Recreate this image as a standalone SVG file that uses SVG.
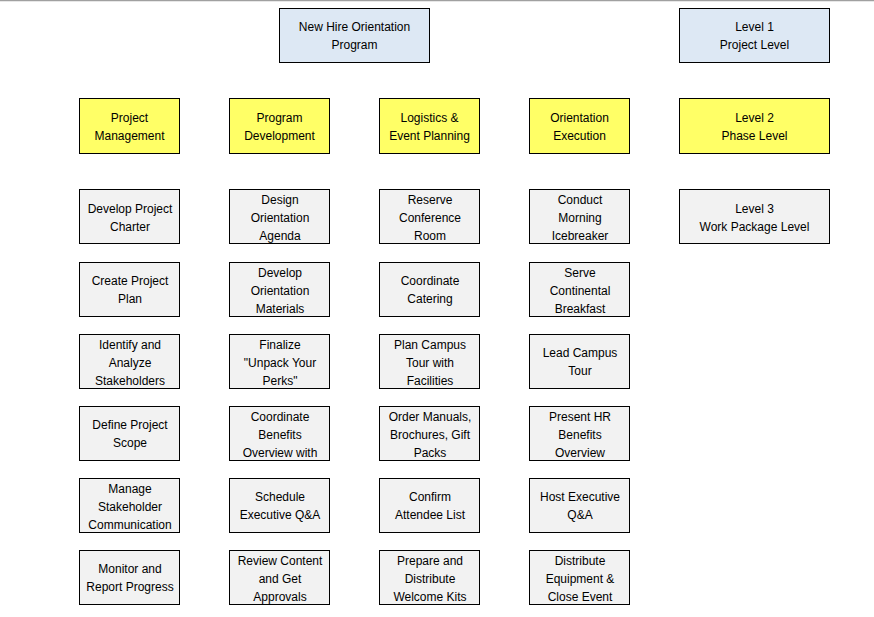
<svg xmlns="http://www.w3.org/2000/svg" width="874" height="617" viewBox="0 0 874 617">
<style>
rect.b{stroke:#000;stroke-width:1}
.l1{fill:#dde8f4}
.l2{fill:#ffff66}
.l3{fill:#f2f2f2}
text{font-family:"Liberation Sans",Arial,sans-serif;font-size:12px;fill:#000;text-anchor:middle}
</style>
<rect x="0" y="0" width="874" height="617" fill="#fff"/>
<line x1="0" y1="0.5" x2="874" y2="0.5" stroke="#a0a0a0" stroke-width="1.5"/>
<g id="root"><rect class="b l1" x="279.5" y="8.5" width="150" height="54"/><text x="354.5" y="31">New Hire Orientation</text><text x="354.5" y="49">Program</text></g>
<g id="legend1"><rect class="b l1" x="679.5" y="8.5" width="150" height="54"/><text x="754.5" y="31">Level 1</text><text x="754.5" y="49">Project Level</text></g>
<g id="pm"><rect class="b l2" x="79.5" y="98.5" width="100" height="55"/><text x="129.5" y="122">Project</text><text x="129.5" y="140">Management</text></g>
<g id="pd"><rect class="b l2" x="229.5" y="98.5" width="100" height="55"/><text x="279.5" y="122">Program</text><text x="279.5" y="140">Development</text></g>
<g id="lep"><rect class="b l2" x="379.5" y="98.5" width="100" height="55"/><text x="429.5" y="122">Logistics &amp;</text><text x="429.5" y="140">Event Planning</text></g>
<g id="oe"><rect class="b l2" x="529.5" y="98.5" width="100" height="55"/><text x="579.5" y="122">Orientation</text><text x="579.5" y="140">Execution</text></g>
<g id="legend2"><rect class="b l2" x="679.5" y="98.5" width="150" height="55"/><text x="754.5" y="122">Level 2</text><text x="754.5" y="140">Phase Level</text></g>
<g id="legend3"><rect class="b l3" x="679.5" y="189.5" width="150" height="54"/><text x="754.5" y="213">Level 3</text><text x="754.5" y="231">Work Package Level</text></g>
<!-- column 1 -->
<g id="pm1"><rect class="b l3" x="79.5" y="189.5" width="100" height="54"/><text x="130" y="213">Develop Project</text><text x="130" y="231">Charter</text></g>
<g id="pm2"><rect class="b l3" x="79.5" y="262.5" width="100" height="54"/><text x="130" y="285">Create Project</text><text x="130" y="303">Plan</text></g>
<g id="pm3"><rect class="b l3" x="79.5" y="334.5" width="100" height="54"/><text x="130" y="349">Identify and</text><text x="130" y="367">Analyze</text><text x="130" y="385">Stakeholders</text></g>
<g id="pm4"><rect class="b l3" x="79.5" y="406.5" width="100" height="54"/><text x="130" y="429">Define Project</text><text x="130" y="447">Scope</text></g>
<g id="pm5"><rect class="b l3" x="79.5" y="478.5" width="100" height="54"/><text x="130" y="493">Manage</text><text x="130" y="511">Stakeholder</text><text x="130" y="529">Communication</text></g>
<g id="pm6"><rect class="b l3" x="79.5" y="550.5" width="100" height="54"/><text x="130" y="573">Monitor and</text><text x="130" y="591">Report Progress</text></g>
<!-- column 2 -->
<g id="pd1"><rect class="b l3" x="229.5" y="189.5" width="100" height="54"/><text x="280" y="204">Design</text><text x="280" y="222">Orientation</text><text x="280" y="240">Agenda</text></g>
<g id="pd2"><rect class="b l3" x="229.5" y="262.5" width="100" height="54"/><text x="280" y="277">Develop</text><text x="280" y="295">Orientation</text><text x="280" y="313">Materials</text></g>
<g id="pd3"><rect class="b l3" x="229.5" y="334.5" width="100" height="54"/><text x="280" y="349">Finalize</text><text x="280" y="367">"Unpack Your</text><text x="280" y="385">Perks"</text></g>
<g id="pd4"><rect class="b l3" x="229.5" y="406.5" width="100" height="54"/><text x="280" y="421">Coordinate</text><text x="280" y="439">Benefits</text><text x="280" y="457">Overview with</text></g>
<g id="pd5"><rect class="b l3" x="229.5" y="478.5" width="100" height="54"/><text x="280" y="501">Schedule</text><text x="280" y="519">Executive Q&amp;A</text></g>
<g id="pd6"><rect class="b l3" x="229.5" y="550.5" width="100" height="54"/><text x="280" y="565">Review Content</text><text x="280" y="583">and Get</text><text x="280" y="601">Approvals</text></g>
<!-- column 3 -->
<g id="lep1"><rect class="b l3" x="379.5" y="189.5" width="100" height="54"/><text x="430" y="204">Reserve</text><text x="430" y="222">Conference</text><text x="430" y="240">Room</text></g>
<g id="lep2"><rect class="b l3" x="379.5" y="262.5" width="100" height="54"/><text x="430" y="285">Coordinate</text><text x="430" y="303">Catering</text></g>
<g id="lep3"><rect class="b l3" x="379.5" y="334.5" width="100" height="54"/><text x="430" y="349">Plan Campus</text><text x="430" y="367">Tour with</text><text x="430" y="385">Facilities</text></g>
<g id="lep4"><rect class="b l3" x="379.5" y="406.5" width="100" height="54"/><text x="430" y="421">Order Manuals,</text><text x="430" y="439">Brochures, Gift</text><text x="430" y="457">Packs</text></g>
<g id="lep5"><rect class="b l3" x="379.5" y="478.5" width="100" height="54"/><text x="430" y="501">Confirm</text><text x="430" y="519">Attendee List</text></g>
<g id="lep6"><rect class="b l3" x="379.5" y="550.5" width="100" height="54"/><text x="430" y="565">Prepare and</text><text x="430" y="583">Distribute</text><text x="430" y="601">Welcome Kits</text></g>
<!-- column 4 -->
<g id="oe1"><rect class="b l3" x="529.5" y="189.5" width="100" height="54"/><text x="580" y="204">Conduct</text><text x="580" y="222">Morning</text><text x="580" y="240">Icebreaker</text></g>
<g id="oe2"><rect class="b l3" x="529.5" y="262.5" width="100" height="54"/><text x="580" y="277">Serve</text><text x="580" y="295">Continental</text><text x="580" y="313">Breakfast</text></g>
<g id="oe3"><rect class="b l3" x="529.5" y="334.5" width="100" height="54"/><text x="580" y="357">Lead Campus</text><text x="580" y="375">Tour</text></g>
<g id="oe4"><rect class="b l3" x="529.5" y="406.5" width="100" height="54"/><text x="580" y="421">Present HR</text><text x="580" y="439">Benefits</text><text x="580" y="457">Overview</text></g>
<g id="oe5"><rect class="b l3" x="529.5" y="478.5" width="100" height="54"/><text x="580" y="501">Host Executive</text><text x="580" y="519">Q&amp;A</text></g>
<g id="oe6"><rect class="b l3" x="529.5" y="550.5" width="100" height="54"/><text x="580" y="565">Distribute</text><text x="580" y="583">Equipment &amp;</text><text x="580" y="601">Close Event</text></g>
</svg>
